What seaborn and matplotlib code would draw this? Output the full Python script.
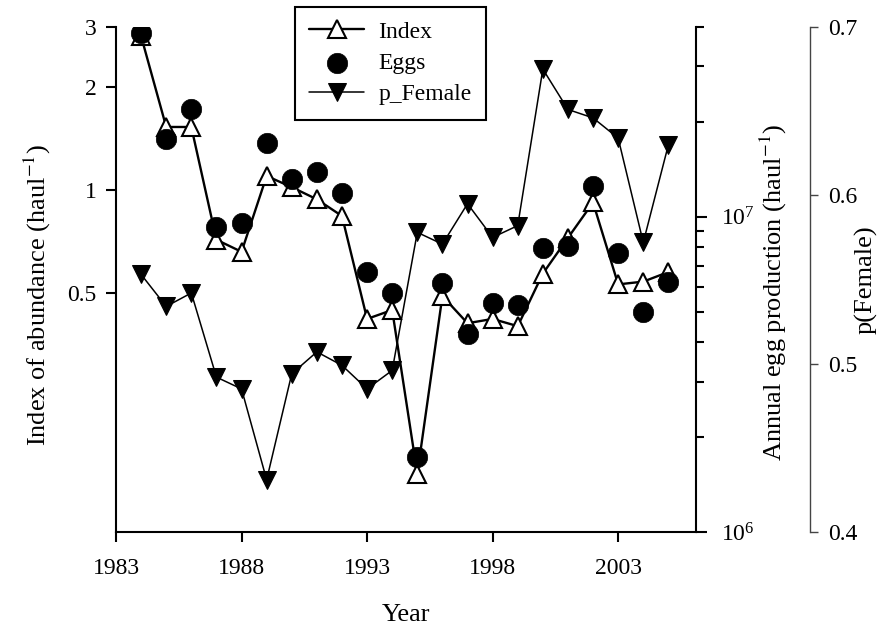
import matplotlib
matplotlib.use('Agg')
import matplotlib.pyplot as plt
import matplotlib.ticker as mticker
import seaborn as sns

# values
years = list(range(1984, 2006))
index = [2.82, 1.53, 1.53, 0.716, 0.66, 1.10, 1.02, 0.94, 0.84, 0.42, 0.446,
         0.148, 0.49, 0.408, 0.42, 0.40, 0.57, 0.725, 0.92, 0.53, 0.54, 0.576]
eggs = [3.84e7, 1.77e7, 2.19e7, 9.3e6, 9.57e6, 1.72e7, 1.32e7, 1.39e7, 1.19e7,
        6.69e6, 5.74e6, 1.73e6, 6.17e6, 4.25e6, 5.33e6, 5.26e6, 7.97e6, 8.09e6,
        1.254e7, 7.69e6, 4.99e6, 6.22e6]
p_female = [0.553, 0.534, 0.542, 0.492, 0.485, 0.431, 0.494, 0.507, 0.499,
            0.485, 0.496, 0.578, 0.571, 0.595, 0.575, 0.582, 0.675, 0.651,
            0.646, 0.634, 0.572, 0.630]

x_ticks = [1983, 1988, 1993, 1998, 2003]
index_ticks = [0.5, 1, 2, 3]
index_tick_labels = ['0.5', '1', '2', '3']
p_ticks = [0.4, 0.5, 0.6, 0.7]

sns.set_style('ticks', {'axes.edgecolor': 'black', 'xtick.color': 'black',
                        'ytick.color': 'black', 'text.color': 'black',
                        'axes.labelcolor': 'black'})
plt.rcParams['font.family'] = ['Liberation Serif', 'DejaVu Serif']
plt.rcParams['mathtext.fontset'] = 'stix'
plt.rcParams['font.size'] = 17
plt.rcParams['axes.labelsize'] = 19
plt.rcParams['axes.linewidth'] = 1.5

fig = plt.figure(figsize=(8.85, 6.26), dpi=100)
ax = fig.add_axes([116 / 885, 94 / 626, 580 / 885, 505 / 626])
ax2 = ax.twinx()
ax3 = ax.twinx()

ax.set_yscale('log')
ax2.set_yscale('log')

sns.lineplot(x=years, y=index, ax=ax, color='black', linewidth=1.7,
             marker='^', markersize=13.5, markerfacecolor='white',
             markeredgecolor='black', markeredgewidth=1.5, label='Index')
sns.scatterplot(x=years, y=eggs, ax=ax2, color='black', s=215, marker='o',
                edgecolor='black', linewidth=0.5, label='Eggs', zorder=3)
sns.lineplot(x=years, y=p_female, ax=ax3, color='black', linewidth=1.1,
             marker='v', markersize=13.5, markerfacecolor='black',
             markeredgecolor='black', label='p_Female')

# left axis
ax.set_xlim(1983, 2006.1)
ax.set_xticks(x_ticks)
ax.set_ylim(0.1, 3)
ax.yaxis.set_major_locator(mticker.FixedLocator(index_ticks))
ax.yaxis.set_major_formatter(mticker.FixedFormatter(index_tick_labels))
ax.yaxis.set_minor_locator(mticker.NullLocator())
ax.spines['top'].set_visible(False)
ax.spines['right'].set_visible(False)
ax.tick_params(direction='out', length=7, width=1.5, pad=7)
ax.tick_params(axis='x', pad=12)
ax.set_xlabel('Year')
ax.set_ylabel(r'Index of abundance (haul$^{-1}$)')
ax.xaxis.set_label_coords(0.5, -0.143)
ax.yaxis.set_label_coords(-0.109, 0.47)

# egg production axis
ax2.set_ylim(1e6, 4e7)
ax2.yaxis.set_major_locator(mticker.LogLocator(base=10))
ax2.yaxis.set_minor_locator(mticker.LogLocator(base=10, subs=range(2, 10)))
ax2.yaxis.set_minor_formatter(mticker.NullFormatter())
for s in ['top', 'left', 'bottom']:
    ax2.spines[s].set_visible(False)
ax2.tick_params(which='major', direction='out', length=8, width=1.5, pad=10)
ax2.tick_params(which='minor', direction='out', length=6, width=1.5)
ax2.set_ylabel(r'Annual egg production (haul$^{-1}$)')
ax2.yaxis.set_label_coords(1.107, 0.475)

# proportion female axis
ax3.set_ylim(0.4, 0.7)
ax3.set_yticks(p_ticks)
ax3.spines['right'].set_position(('axes', 694 / 580))
ax3.spines['right'].set_linewidth(1.0)
ax3.spines['right'].set_color('#444444')
for s in ['top', 'left', 'bottom']:
    ax3.spines[s].set_visible(False)
ax3.tick_params(direction='out', length=6, width=1.0, color='#444444', pad=7)
ax3.set_ylabel('p(Female)')
ax3.yaxis.set_label_coords(1.274, 0.5)

handles, labels = [], []
for a in (ax, ax2, ax3):
    h, l = a.get_legend_handles_labels()
    handles += h
    labels += l
    if a.get_legend() is not None:
        a.get_legend().remove()

leg = ax3.legend(handles, labels, loc='upper center',
                 bbox_to_anchor=(0.441, 0.989), bbox_transform=fig.transFigure,
                 borderaxespad=0, frameon=True, fancybox=False,
                 edgecolor='black', handlelength=2.35, handletextpad=0.6,
                 labelspacing=0.42, borderpad=0.6)
leg.get_frame().set_linewidth(1.5)
leg.get_frame().set_alpha(1)

fig.savefig('out.png', dpi=100)
